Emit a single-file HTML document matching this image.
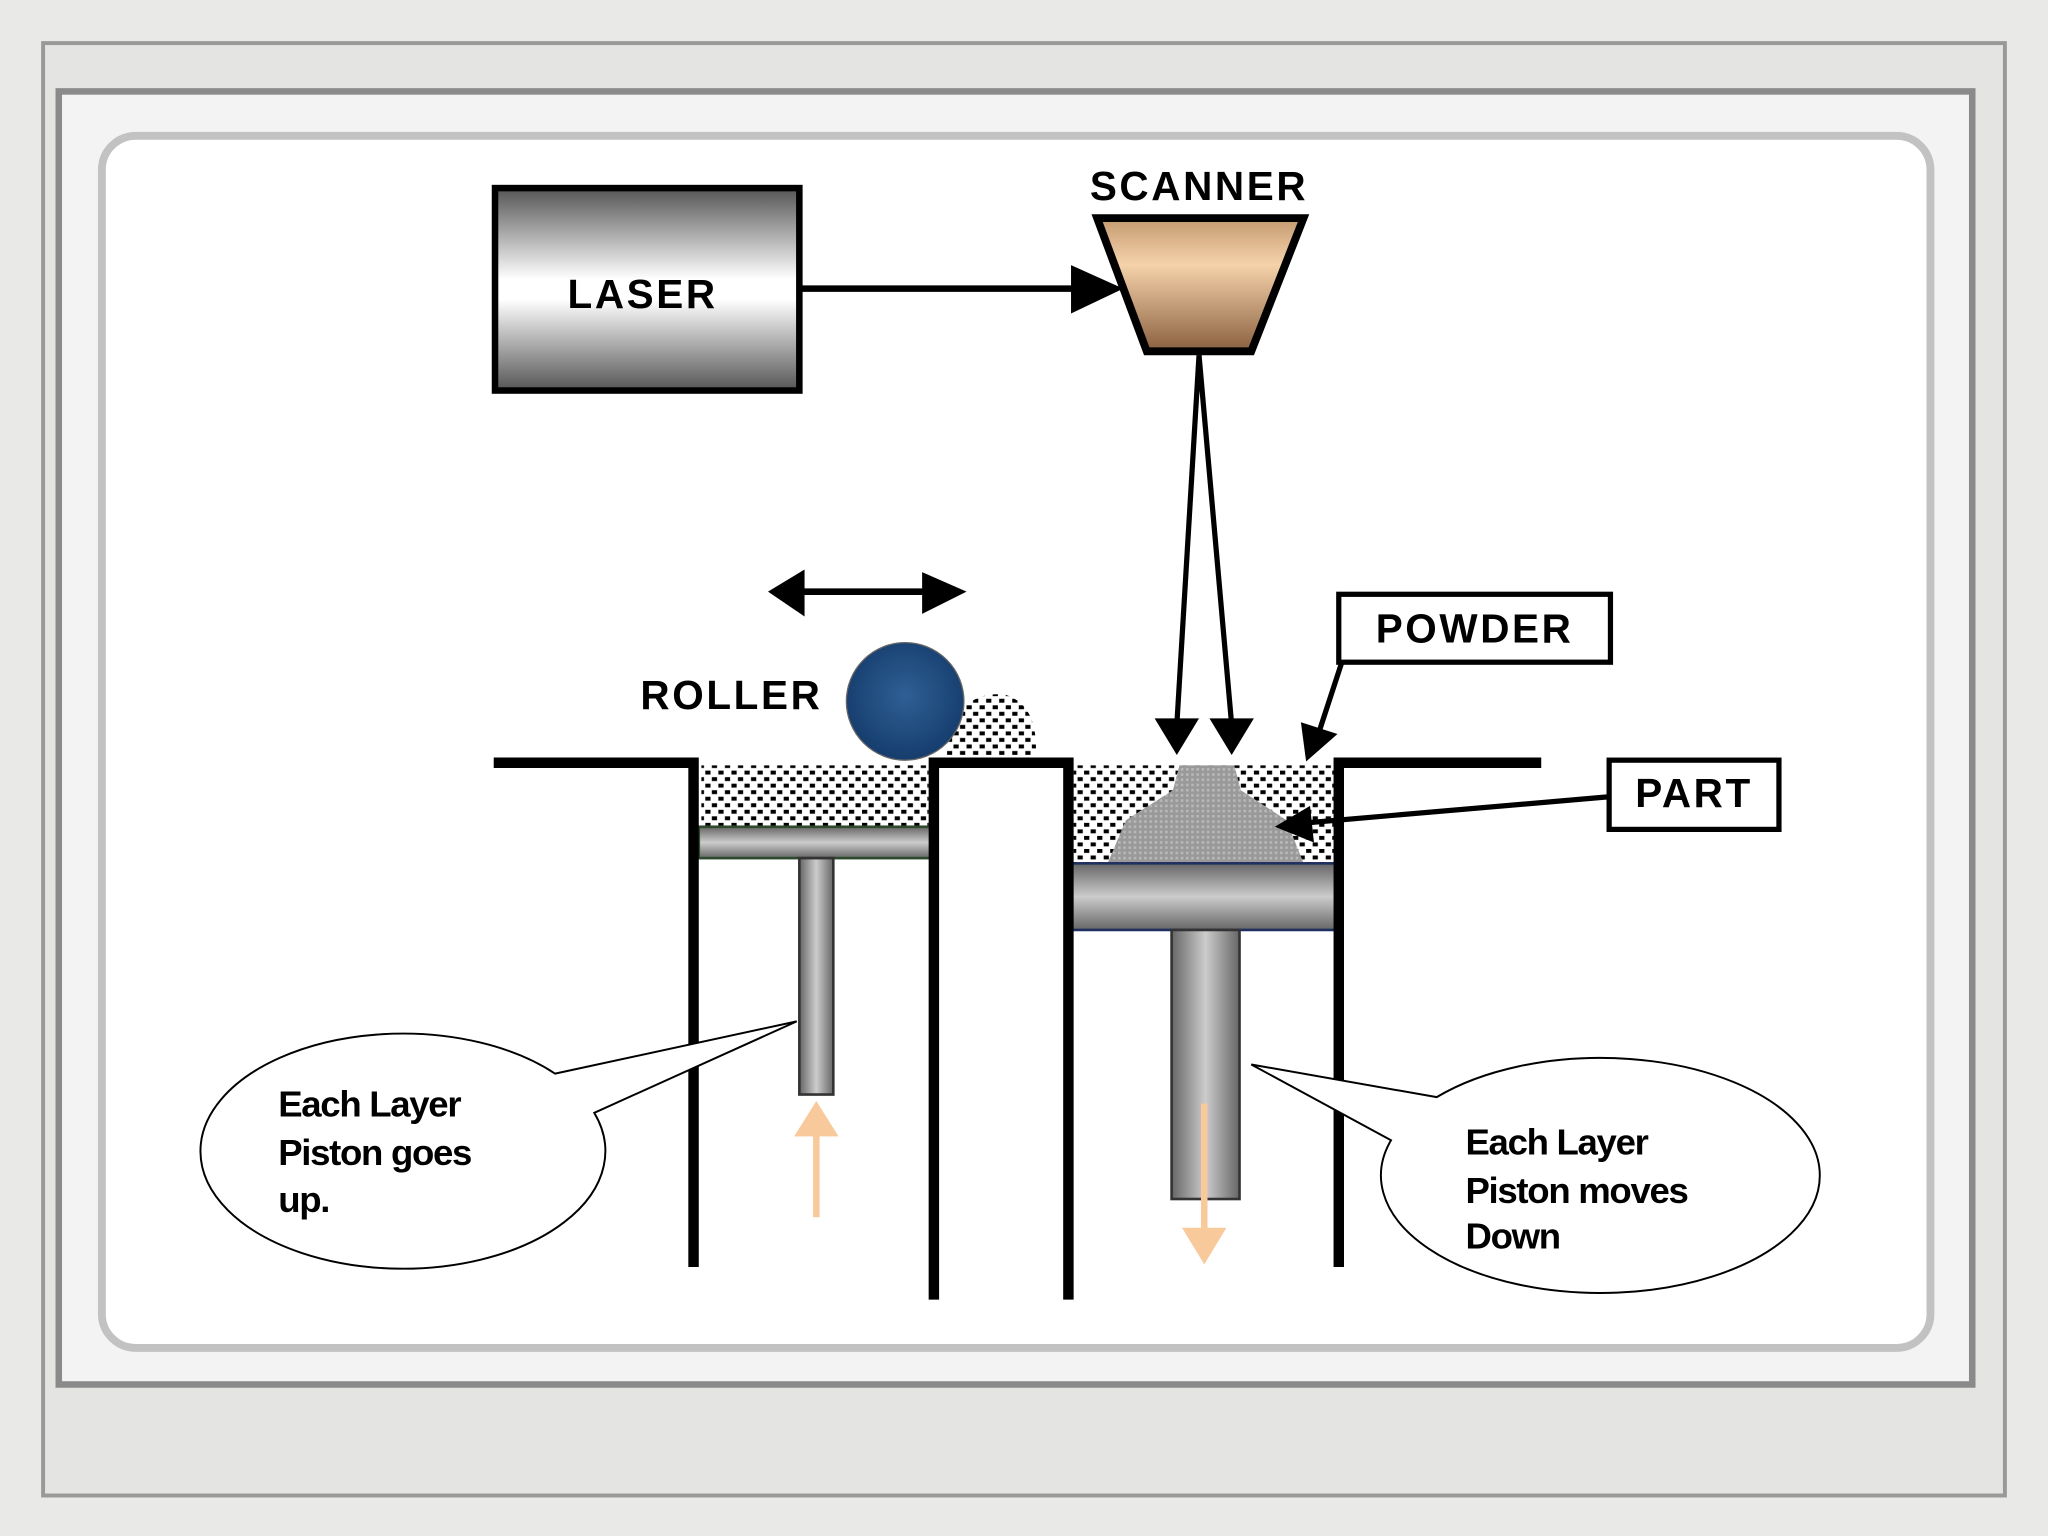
<!DOCTYPE html>
<html><head><style>
html,body{margin:0;padding:0;width:2048px;height:1536px;overflow:hidden;background:#e9e9e7;}
svg{display:block}
text{font-family:"Liberation Sans",sans-serif;}
</style></head><body>
<svg width="2048" height="1536" viewBox="0 0 1568 1176" xmlns="http://www.w3.org/2000/svg">
<defs>
<linearGradient id="lg" x1="0" y1="0" x2="0" y2="1">
<stop offset="0" stop-color="#555"/><stop offset="0.45" stop-color="#fff"/><stop offset="0.55" stop-color="#fff"/><stop offset="1" stop-color="#555"/></linearGradient>
<linearGradient id="sg" x1="0" y1="0" x2="0" y2="1">
<stop offset="0" stop-color="#c49a70"/><stop offset="0.35" stop-color="#f5d2aa"/><stop offset="1" stop-color="#8a6040"/></linearGradient>
<linearGradient id="rg" x1="0" y1="0" x2="1" y2="0">
<stop offset="0" stop-color="#666"/><stop offset="0.5" stop-color="#ccc"/><stop offset="1" stop-color="#666"/></linearGradient>
<linearGradient id="pg" x1="0" y1="0" x2="0" y2="1">
<stop offset="0" stop-color="#666"/><stop offset="0.5" stop-color="#ccc"/><stop offset="1" stop-color="#666"/></linearGradient>
<radialGradient id="ball" cx="0.5" cy="0.45" r="0.55"><stop offset="0" stop-color="#2f5f95"/><stop offset="1" stop-color="#153d6d"/></radialGradient>
<pattern id="dots" width="10" height="10" patternUnits="userSpaceOnUse">
<rect width="10" height="10" fill="#fff"/><rect x="0" y="0" width="4" height="3" fill="#000"/><rect x="5" y="5" width="4" height="3" fill="#000"/></pattern>
<pattern id="gdots" width="4" height="4" patternUnits="userSpaceOnUse">
<rect width="4" height="4" fill="#999"/><rect width="2" height="2" fill="#b8b8b8"/></pattern>
</defs>
<rect x="33" y="33" width="1502" height="1112" fill="#e4e4e2" stroke="#999" stroke-width="3"/>
<rect x="45" y="70" width="1465" height="990" fill="#f3f3f3" stroke="#8a8a8a" stroke-width="5"/>
<rect x="78" y="104" width="1400" height="928" rx="26" fill="#fff" stroke="#c2c2c2" stroke-width="6"/>

<!-- laser -->
<rect x="379" y="144" width="233" height="155" fill="url(#lg)" stroke="#000" stroke-width="5"/>
<text x="492" y="236" font-size="31" font-weight="bold" text-anchor="middle" letter-spacing="2">LASER</text>
<line x1="613" y1="221" x2="825" y2="221" stroke="#000" stroke-width="5"/>
<path d="M820 203L860 221L820 240z" fill="#000"/>
<!-- scanner -->
<text x="918" y="153" font-size="31" font-weight="bold" text-anchor="middle" letter-spacing="2">SCANNER</text>
<path d="M840 167L998 167L958 269L878 269z" fill="url(#sg)" stroke="#000" stroke-width="6"/>
<line x1="918" y1="272" x2="901" y2="555" stroke="#000" stroke-width="4"/>
<line x1="918" y1="272" x2="943" y2="555" stroke="#000" stroke-width="4"/>
<path d="M884 550L918 550L901 578z" fill="#000"/>
<path d="M926 550L960 550L943 578z" fill="#000"/>
<!-- double arrow -->
<line x1="610" y1="453" x2="718" y2="453" stroke="#000" stroke-width="5"/>
<path d="M588 453L616 436L616 472z" fill="#000"/>
<path d="M740 453L706 438L706 470z" fill="#000"/>
<!-- roller -->
<text x="560" y="543" font-size="31" font-weight="bold" text-anchor="middle" letter-spacing="2">ROLLER</text>
<path d="M725 560Q740 528 770 532Q795 540 793 578L725 578z" fill="url(#dots)"/>
<circle cx="693" cy="537" r="45" fill="url(#ball)" stroke="#666" stroke-width="1"/>
<!-- powder beds -->
<rect x="537" y="586" width="174" height="47" fill="url(#dots)"/>
<rect x="822" y="586" width="200" height="75" fill="url(#dots)"/>
<path d="M848 661L862 628L898 605L903 586L945 586L950 605L985 628L998 661z" fill="url(#gdots)"/>
<!-- plates & rods -->
<rect x="535" y="633" width="180" height="24" fill="url(#pg)" stroke="#2d4a2d" stroke-width="2"/>
<rect x="612" y="657" width="26" height="181" fill="url(#rg)" stroke="#333" stroke-width="2"/>
<rect x="820" y="661" width="207" height="51" fill="url(#pg)" stroke="#1f3060" stroke-width="2"/>
<rect x="897" y="712" width="52" height="206" fill="url(#rg)" stroke="#333" stroke-width="2"/>
<!-- walls -->
<g stroke="#000" stroke-width="8" fill="none">
<polyline points="378,584 531,584 531,970"/>
<polyline points="715,995 715,584 818,584 818,995"/>
<polyline points="1025,970 1025,584 1180,584"/>
</g>
<!-- powder label -->
<rect x="1025" y="455" width="208" height="52" fill="#fff" stroke="#000" stroke-width="4"/>
<text x="1129" y="492" font-size="31" font-weight="bold" text-anchor="middle" letter-spacing="2">POWDER</text>
<line x1="1027" y1="508" x2="1010" y2="560" stroke="#000" stroke-width="4"/>
<path d="M996 553L1024 562L1000 583z" fill="#000"/>
<!-- part label -->
<rect x="1232" y="582" width="130" height="53" fill="#fff" stroke="#000" stroke-width="4"/>
<text x="1297" y="618" font-size="31" font-weight="bold" text-anchor="middle" letter-spacing="2">PART</text>
<line x1="1232" y1="610" x2="1000" y2="630" stroke="#000" stroke-width="4"/>
<path d="M1003 617L1006 645L976 633z" fill="#000"/>
<!-- peach arrows -->
<line x1="625" y1="932" x2="625" y2="865" stroke="#f8c99a" stroke-width="5"/>
<path d="M608 870L625 843L642 870z" fill="#f8c99a"/>
<line x1="922" y1="845" x2="922" y2="945" stroke="#f8c99a" stroke-width="5"/>
<path d="M905 940L922 968L939 940z" fill="#f8c99a"/>
<!-- bubbles -->
<path d="M425 822 L610 782 L455 852 A155 90 0 1 1 425 822 Z" fill="#fff" stroke="#000" stroke-width="1.5"/>
<path d="M1100 840 L958 815 L1065 873 A168 90 0 1 0 1100 840 Z" fill="#fff" stroke="#000" stroke-width="1.5"/>
<g font-size="28" font-weight="bold" letter-spacing="-1">
<text x="213" y="855">Each Layer</text>
<text x="213" y="892">Piston goes</text>
<text x="213" y="928">up.</text>
<text x="1122" y="884">Each Layer</text>
<text x="1122" y="921">Piston moves</text>
<text x="1122" y="956">Down</text>
</g>
</svg>
</body></html>
